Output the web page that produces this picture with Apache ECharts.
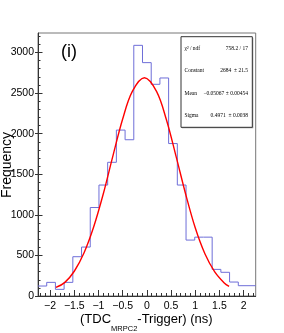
<!DOCTYPE html>
<html><head><meta charset="utf-8">
<script src="https://cdn.jsdelivr.net/npm/echarts@6/dist/echarts.min.js"></script>
<style>html,body{margin:0;padding:0;background:#fff}#c{width:284px;height:333px}</style>
</head><body><div id="c"></div>
<script>
// ---- data ----
const binEdges = [-2.25,-2.07,-1.89,-1.71,-1.53,-1.35,-1.17,-0.99,-0.81,-0.63,-0.45,-0.27,-0.09,0.09,0.27,0.45,0.63,0.81,0.99,1.17,1.35,1.53,1.71,1.89,2.07,2.25];
const counts = [123,168,82,168,484,603,1090,1367,1647,2044,1925,3088,2875,2608,2686,1878,1367,689,725,725,328,292,172,127,127];
const fitX = [-1.88,-1.7,-1.5,-1.3,-1.1,-0.9,-0.7,-0.5,-0.3,-0.05,0.2,0.4,0.6,0.8,1.0,1.2,1.4,1.6,1.7];
const fitY = [105,165,305,530,850,1260,1730,2180,2520,2688,2520,2180,1730,1260,840,520,300,160,118];
const xTickLabels = [-2,-1.5,-1,-0.5,0,0.5,1,1.5,2];
const xMinorTicks = [-2.2,-2.1,-1.9,-1.8,-1.7,-1.6,-1.4,-1.3,-1.2,-1.1,-0.9,-0.8,-0.7,-0.6,-0.4,-0.3,-0.2,-0.1,0.1,0.2,0.3,0.4,0.6,0.7,0.8,0.9,1.1,1.2,1.3,1.4,1.6,1.7,1.8,1.9,2.1,2.2];
const yTickLabels = [0,500,1000,1500,2000,2500,3000];
const yMinorTicks = [100,200,300,400,600,700,800,900,1100,1200,1300,1400,1600,1700,1800,1900,2100,2200,2300,2400,2600,2700,2800,2900,3100,3200];
const statLabels = ['\u03C7\u00B2 / ndf','Constant','Mean','Sigma'];
const statValues = ['758.2 / 17','2684  \u00B1 21.5','\u22120.05067 \u00B1 0.00454','0.4971  \u00B1 0.0038'];
const panelLabel = '(i)';
const yTitle = 'Frequency';
const xTitleMain1 = '(TDC', xTitleSub = 'MRPC2', xTitleMain2 = '-Trigger) (ns)';

// ---- build ----
const histData = counts.map((c, i) => [binEdges[i], c]);
histData.push([binEdges[binEdges.length - 1], counts[counts.length - 1]]);
const fitData = fitX.map((x, i) => [x, fitY[i]]);

const FONT = '"Liberation Sans", Arial, sans-serif';
const axisColor = '#333';
const fmtX = v => String(Math.round(v * 10) / 10).replace('-', '\u2212');
const fmtY = v => String(Math.round(v));

const ctx = document.createElement('canvas').getContext('2d');
function tw(t, f) { ctx.font = f; return ctx.measureText(t).width; }
const mainFont = '13px ' + FONT, subFont = '7.5px ' + FONT;
const tx0 = 80;
const tx1 = tx0 + tw(xTitleMain1, mainFont);
const tx2 = tx1 + tw(xTitleSub, subFont);

const statEls = [];
const rowY = [48.3, 71, 93.3, 116];
statLabels.forEach((t, i) => {
  statEls.push({type:'text', z:101, style:{x:184.5, y:rowY[i], text:t, fill:'#000',
    font:'5.5px "Liberation Serif", serif', textAlign:'left', textVerticalAlign:'middle'}});
  statEls.push({type:'text', z:101, style:{x:248, y:rowY[i], text:statValues[i], fill:'#000',
    font:'5.5px "Liberation Serif", serif', textAlign:'right', textVerticalAlign:'middle'}});
});

const chart = echarts.init(document.getElementById('c'), null, {renderer:'canvas'});
chart.setOption({
  animation:false,
  backgroundColor:'#fff',
  grid:{left:38, right:28.3, top:33, bottom:37, show:true, borderColor:'#777', borderWidth:1, containLabel:false},
  xAxis:[
    {type:'value', min:-2.25, max:2.25, position:'bottom',
     axisLine:{show:true, onZero:false, lineStyle:{color:axisColor, width:1}},
     axisTick:{show:true, inside:true, length:6, customValues:xTickLabels, lineStyle:{color:axisColor}},
     axisLabel:{show:true, customValues:xTickLabels, formatter:fmtX, color:'#000', fontSize:10.5, fontFamily:FONT, margin:5},
     splitLine:{show:false}},
    {type:'value', min:-2.25, max:2.25, position:'bottom',
     axisLine:{show:false, onZero:false},
     axisTick:{show:true, inside:true, length:3, customValues:xMinorTicks, lineStyle:{color:axisColor}},
     axisLabel:{show:false},
     splitLine:{show:false}}
  ],
  yAxis:[
    {type:'value', min:0, max:3240, position:'left',
     axisLine:{show:true, onZero:false, lineStyle:{color:axisColor, width:1}},
     axisTick:{show:true, inside:true, length:4.5, customValues:yTickLabels, lineStyle:{color:axisColor}},
     axisLabel:{show:true, customValues:yTickLabels, formatter:fmtY, color:'#000', fontSize:10.5, fontFamily:FONT, margin:4},
     splitLine:{show:false}},
    {type:'value', min:0, max:3240, position:'left',
     axisLine:{show:false, onZero:false},
     axisTick:{show:true, inside:true, length:2.5, customValues:yMinorTicks, lineStyle:{color:axisColor}},
     axisLabel:{show:false}, splitLine:{show:false}},
    {type:'value', min:0, max:3240, position:'left',
     axisLine:{show:false, onZero:false},
     axisTick:{show:true, inside:false, length:3, customValues:yTickLabels, lineStyle:{color:axisColor}},
     axisLabel:{show:false}, splitLine:{show:false}}
  ],
  series:[
    {type:'line', name:'hist', xAxisIndex:0, yAxisIndex:0, step:'end', data:histData,
     showSymbol:false, symbol:'none', lineStyle:{color:'#6e6ed8', width:1}, z:2},
    {type:'line', name:'fit', xAxisIndex:0, yAxisIndex:0, smooth:0.35, data:fitData,
     showSymbol:false, symbol:'none', lineStyle:{color:'#ff0000', width:1.4}, z:3}
  ],
  graphic:[
    {type:'rect', z:99, shape:{x:182, y:37.7, width:71.3, height:90.6}, style:{fill:'#999', stroke:null}},
    {type:'rect', z:100, shape:{x:181, y:36.7, width:71.3, height:90.6}, style:{fill:'#fff', stroke:'#333', lineWidth:1}},
    ...statEls,
    {type:'text', z:101, style:{x:61, y:52, text:panelLabel, fill:'#000', font:'18px ' + FONT, textAlign:'left', textVerticalAlign:'middle'}},
    {type:'text', z:101, x:7.5, y:165, rotation:Math.PI/2,
     style:{x:0, y:0, text:yTitle, fill:'#000', font:'14px ' + FONT, textAlign:'center', textVerticalAlign:'middle'}},
    {type:'text', z:101, style:{x:tx0, y:319, text:xTitleMain1, fill:'#000', font:mainFont, textAlign:'left', textVerticalAlign:'middle'}},
    {type:'text', z:101, style:{x:tx1, y:329.3, text:xTitleSub, fill:'#000', font:subFont, textAlign:'left', textVerticalAlign:'middle'}},
    {type:'text', z:101, style:{x:tx2, y:319, text:xTitleMain2, fill:'#000', font:mainFont, textAlign:'left', textVerticalAlign:'middle'}}
  ]
});
</script>
</body></html>
